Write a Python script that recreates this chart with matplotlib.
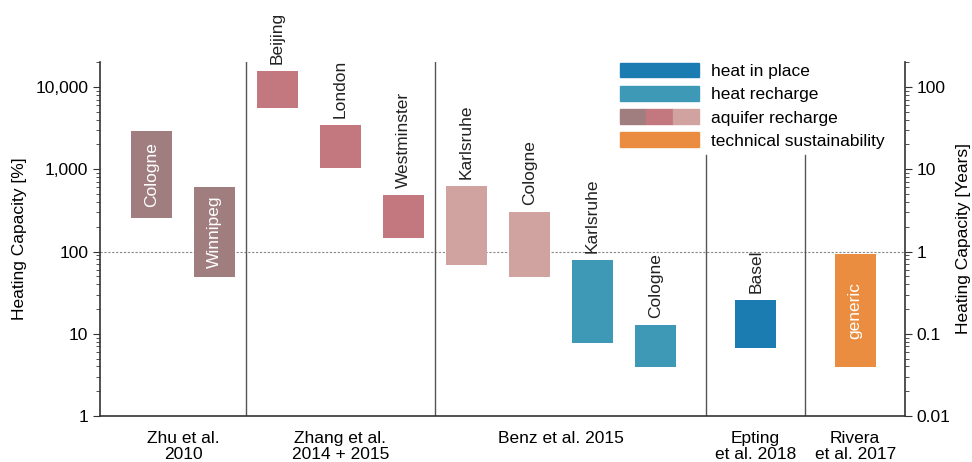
import numpy as np
import matplotlib.pyplot as plt
from matplotlib.patches import Patch
from matplotlib.legend_handler import HandlerTuple
from matplotlib.ticker import FuncFormatter, LogLocator

plt.rcParams['font.family'] = ['Liberation Sans', 'DejaVu Sans']
plt.rcParams['font.size'] = 12.5

# Heating capacity ranges per site [%]
sites = ['Cologne', 'Winnipeg', 'Beijing', 'London', 'Westminster',
         'Karlsruhe', 'Cologne', 'Karlsruhe', 'Cologne', 'Basel', 'generic']
low = [255, 49, 5500, 1030, 147, 69, 49, 7.8, 3.9, 6.7, 3.9]
high = [2900, 608, 15700, 3450, 486, 626, 302, 79, 12.8, 25.7, 92]
kind = ['zhu', 'zhu', 'zhang', 'zhang', 'zhang', 'benz', 'benz',
        'recharge', 'recharge', 'inplace', 'tech']
inside = [True, True, False, False, False, False, False, False, False, False, True]
xpos = [0, 1, 2, 3, 4, 5, 6, 7, 8, 9.59, 11.17]

studies = ['Zhu et al.\n2010', 'Zhang et al.\n2014 + 2015', 'Benz et al. 2015',
           'Epting\net al. 2018', 'Rivera\net al. 2017']
study_x = [0.5, 3, 6.5, 9.59, 11.17]
separators = [1.5, 4.5, 8.8, 10.38]
sep_top = [1.0, 1.0, 0.737, 0.737]

colors = {'zhu': '#a07e80', 'zhang': '#c3777e', 'benz': '#d0a3a0',
          'recharge': '#3d99b5', 'inplace': '#1b7cb2', 'tech': '#ea8d40'}

fig = plt.figure(figsize=(9.72, 4.62), dpi=100)
ax = fig.add_axes([100 / 972, 46 / 462, 805 / 972, 354 / 462])

low = np.array(low)
high = np.array(high)
ax.bar(xpos, high - low, bottom=low, width=0.65,
       color=[colors[k] for k in kind], zorder=3)

for x, lo, hi, name, ins in zip(xpos, low, high, sites, inside):
    if ins:
        ax.text(x, np.sqrt(lo * hi), name, rotation=90, ha='center', va='center',
                color='white', zorder=4)
    else:
        ax.annotate(name, (x, hi), xytext=(0, 5), textcoords='offset points',
                    rotation=90, ha='center', va='bottom', color='#222222', zorder=4,
                    annotation_clip=False)

ax.axhline(100, ls=(0, (2, 1.5)), color='#888888', lw=0.8, zorder=1)
for s, t in zip(separators, sep_top):
    ax.axvline(s, ymin=0, ymax=t, color='#555555', lw=1.0, zorder=2)

ax.set_yscale('log')
ax.set_ylim(1, 10 ** 4.304)
ax.set_xlim(-0.817, 11.96)
ax.yaxis.set_major_locator(LogLocator(base=10, numticks=10))
ax.yaxis.set_major_formatter(FuncFormatter(lambda v, p: f'{v:,.0f}'))
ax.set_ylabel('Heating Capacity [%]', labelpad=6)

ax.set_xticks(study_x)
ax.set_xticklabels(studies)
ax.tick_params(axis='x', length=0, pad=11)
for lbl in ax.get_xticklabels():
    lbl.set_linespacing(1.1)

for side in ['top', 'right']:
    ax.spines[side].set_visible(False)
for side in ['left', 'bottom']:
    ax.spines[side].set_color('#333333')
    ax.spines[side].set_linewidth(1.2)
ax.tick_params(axis='y', which='major', length=5, color='#333333')
ax.tick_params(axis='y', which='minor', length=3, color='#333333')

# second axis in years
ax2 = ax.twinx()
ax2.set_yscale('log')
ax2.set_ylim(0.01, 10 ** 2.304)
ax2.yaxis.set_major_locator(LogLocator(base=10, numticks=10))
ax2.yaxis.set_major_formatter(FuncFormatter(lambda v, p: f'{v:g}'))
ax2.set_ylabel('Heating Capacity [Years]', labelpad=4)
for side in ['top', 'left', 'bottom']:
    ax2.spines[side].set_visible(False)
ax2.spines['right'].set_color('#333333')
ax2.spines['right'].set_linewidth(1.2)
ax2.tick_params(axis='y', which='major', length=5, color='#333333')
ax2.tick_params(axis='y', which='minor', length=3, color='#333333')

handles = [Patch(color=colors['inplace']),
           Patch(color=colors['recharge']),
           (Patch(color=colors['zhu']), Patch(color=colors['zhang']), Patch(color=colors['benz'])),
           Patch(color=colors['tech'])]
labels = ['heat in place', 'heat recharge', 'aquifer recharge', 'technical sustainability']
ax2.legend(handles, labels, loc='upper left', bbox_to_anchor=(0.646, 0.997),
           frameon=False, borderpad=0, borderaxespad=0, handlelength=4.55,
           handleheight=0.9, handletextpad=0.7, labelspacing=0.4,
           handler_map={tuple: HandlerTuple(ndivide=None, pad=0)})

fig.savefig('out.png', dpi=100)
